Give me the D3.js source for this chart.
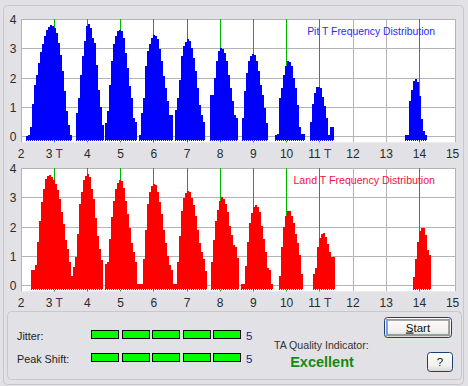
<!DOCTYPE html>
<html><head><meta charset="utf-8">
<script src="https://cdn.jsdelivr.net/npm/d3@7"></script>
<style>
html,body{margin:0;padding:0;background:#e2e1e6;overflow:hidden}
svg{display:block}
text{font-family:"Liberation Sans",Arial,sans-serif}
</style>
</head><body>
<svg id="chart" width="468" height="386"></svg>
<script>
// ---------- data ----------
const xTicks = [2,3,4,5,6,7,8,9,10,11,12,13,14,15];
const xTickLabels = ["2","3 T","4","5","6","7","8","9","10","11 T","12","13","14","15"];
const yTicks = [0,1,2,3,4];
const peakMarkers = [3,4,5,6,7,8,9,10,11,14];
const binStep = 0.06; // T per histogram column

const pitStarts = [2.15,3.66,4.53,5.55,6.64,7.69,8.66,9.65,10.71,13.57];
const pitBumps = [
  [0.03,0.05,0.34,1.1,1.77,2.1,2.5,2.9,3.17,3.44,3.64,3.76,3.82,3.78,3.72,3.55,3.2,2.8,2.24,1.55,0.86,0.39,0.05],
  [0.8,1.3,2.1,2.75,3.28,3.78,3.84,3.7,3.38,3.2,2.46,1.6,1.0,0.4],
  [0.45,0.86,1.77,2.58,3.15,3.44,3.59,3.63,3.6,3.38,2.86,2.34,1.71,1.31,0.62,0.5],
  [0.05,0.8,1.31,2.4,2.92,3.15,3.38,3.47,3.44,3.32,2.98,2.58,2.06,1.66,1.2,0.75,0.73],
  [0.9,1.31,1.94,2.75,3.09,3.24,3.32,3.27,3.03,2.69,2.23,1.66,1.08,0.73,0.51],
  [1.42,1.42,2.0,2.58,2.92,3.03,3.0,2.86,2.58,2.11,1.66,1.2,0.73,0.62],
  [0.62,1.54,2.17,2.58,2.75,2.83,2.78,2.58,2.23,1.77,1.42,0.97,0.45],
  [0.05,0.1,1.31,1.66,2.11,2.4,2.58,2.56,2.4,2.0,1.66,1.08,0.33,0.1,0.1],
  [0.5,1.1,1.5,1.68,1.68,1.66,1.35,1.05,0.62,0.05,0.33,0.33],
  [0.05,0.05,1.2,1.6,1.9,1.97,1.85,1.4,0.6,0.2,0.05]
];

const landStarts = [2.30,3.57,4.53,5.61,6.58,7.72,8.63,9.77,10.80,13.81];
const landBumps = [
  [0.52,0.52,0.7,1.5,2.2,2.85,3.3,3.65,3.76,3.77,3.72,3.62,3.47,3.27,2.95,2.52,2.1,1.55,1.26,0.8,0.34],
  [0.63,0.97,1.75,2.8,3.2,3.6,3.76,3.8,3.7,3.3,2.95,2.3,1.7,1.25,0.86],
  [0.74,0.8,1.6,2.35,2.9,3.3,3.5,3.6,3.57,3.35,2.9,2.45,1.95,1.45,1.15,0.8,0.05,0.05],
  [0.05,0.9,1.9,2.8,3.2,3.4,3.47,3.42,3.2,2.85,2.45,1.9,1.45,1.0,0.7,0.52],
  [0.05,0.05,0.8,1.7,2.55,2.98,3.17,3.24,3.2,3.0,2.75,2.38,1.9,1.45,1.15,0.9,0.5],
  [0.8,1.55,2.2,2.58,2.9,3.03,2.97,2.78,2.52,2.05,1.72,1.4,1.3,0.95],
  [0.05,0.05,0.65,1.5,2.15,2.48,2.67,2.75,2.7,2.5,2.05,1.6,1.15,0.6,0.52,0.06],
  [0.34,1.3,2.0,2.38,2.53,2.53,2.38,2.15,1.75,1.45,1.05,0.4],
  [0.4,0.6,1.3,1.62,1.75,1.8,1.65,1.42,1.15,0.98,0.97],
  [0.29,0.9,1.5,1.85,1.98,1.95,1.72,1.2,1.03]
];

const meterNames = ["Jitter:","Peak Shift:"];
const meterScores = [5,5];
const meterMax = 5;
const qualityLabel = "TA Quality Indicator:";
const qualityText = "Excellent";

// ---------- drawing ----------
const svg = d3.select("#chart");
svg.append("rect").attr("width",468).attr("height",386).attr("fill","#e2e1e6");

// outer group frame
svg.append("rect").attr("x",3.5).attr("y",5.5).attr("width",460).attr("height",379)
  .attr("rx",4).attr("fill","none").attr("stroke","#c8c7cc");

const x = d3.scaleLinear().domain([2,15]).range([21,452.6]);
const plotRight = 455.5;
const snap = v => Math.round(v - 0.5) + 0.5;

function drawChart(cfg){
  const y = d3.scaleLinear().domain([0,4]).range([cfg.y0, cfg.y4]);
  const top = cfg.y4 - 0.5, bottom = y(-0.2);
  const g = svg.append("g");
  g.append("rect").attr("x",21).attr("y",top).attr("width",plotRight-21+0.5).attr("height",bottom-top)
    .attr("fill","#ffffff");
  g.append("g").selectAll("line").data(yTicks).join("line")
    .attr("x1",21).attr("x2",plotRight).attr("y1",d=>snap(y(d))).attr("y2",d=>snap(y(d)))
    .attr("stroke","#b4b4b4");
  g.append("g").selectAll("line").data(xTicks.filter(d=>d<15)).join("line")
    .attr("x1",d=>snap(x(d))).attr("x2",d=>snap(x(d))).attr("y1",top).attr("y2",bottom)
    .attr("stroke","#b4b4b4");
  g.append("line").attr("x1",plotRight).attr("x2",plotRight).attr("y1",top).attr("y2",bottom).attr("stroke","#b4b4b4");
  g.append("g").selectAll("line").data(peakMarkers).join("line")
    .attr("x1",d=>snap(x(d))).attr("x2",d=>snap(x(d))).attr("y1",top).attr("y2",bottom)
    .attr("stroke","#00b400");

  // histogram bumps as stepped areas
  const base = Math.round(y(-0.15));
  const area = d3.area().curve(d3.curveStepAfter)
    .x(d=>Math.round(x(d.t))).y0(base).y1(d=>Math.round(y(d.v)));
  const bumpData = cfg.starts.map((s,bi)=>{
    const vals = cfg.bumps[bi];
    const pts = vals.map((v,i)=>({t:s+i*binStep, v}));
    pts.push({t:s+vals.length*binStep, v:vals[vals.length-1]});
    return pts;
  });
  const hg = g.append("g").attr("shape-rendering","crispEdges");
  hg.selectAll("path").data(bumpData).join("path").attr("d",area).attr("fill",cfg.color);
  // notches along the base
  const cols = bumpData.flatMap(p=>p.slice(0,-1));
  hg.selectAll("rect").data(cols).join("rect")
    .attr("x",d=>Math.round(x(d.t+binStep))-1).attr("width",1)
    .attr("y",base-1).attr("height",1).attr("fill","#ffffff");

  g.append("g").selectAll("text").data(yTicks).join("text")
    .attr("x",13).attr("y",d=>y(d)+4.5).attr("text-anchor","middle")
    .attr("font-size",12).attr("fill","#2a2a2a").text(d=>d);
  const xl = g.append("g").selectAll("text").data(xTicks).join("text")
    .attr("x",d=>x(d)).attr("y",cfg.labelY).attr("text-anchor","middle")
    .attr("font-size",12).attr("fill","#2a2a2a");
  xl.each(function(d,i){
    const lab = xTickLabels[i];
    const t = d3.select(this);
    if(lab.endsWith(" T")){
      t.append("tspan").text(lab.slice(0,-1));
      t.append("tspan").attr("fill","#602060").text("T");
    } else t.text(lab);
  });
  g.append("text").attr("x",435).attr("y",cfg.titleY).attr("text-anchor","end")
    .attr("font-size",cfg.titleSize).attr("fill",cfg.titleColor).text(cfg.title);
}

drawChart({y0:136.5, y4:19.5, starts:pitStarts, bumps:pitBumps, color:"#0000ff",
  labelY:157.5, title:"Pit T Frequency Distribution", titleY:35, titleColor:"#2a2aff", titleSize:10.4});
drawChart({y0:285.5, y4:168.5, starts:landStarts, bumps:landBumps, color:"#ff0000",
  labelY:306.5, title:"Land T Frequency Distribution", titleY:184, titleColor:"#f21040", titleSize:10.6});

// ---------- bottom panel ----------
svg.append("rect").attr("x",7.5).attr("y",311.5).attr("width",454).attr("height",68)
  .attr("rx",4).attr("fill","none").attr("stroke","#c8c7cc");

const rowY = [330, 353];
const segX = d3.scaleBand().domain(d3.range(meterMax)).range([91,241]).paddingInner(0.09);
meterNames.forEach((name,r)=>{
  svg.append("text").attr("x",17).attr("y",rowY[r]+9.5).attr("font-size",10.8).attr("fill","#222").text(name);
  svg.append("g").selectAll("rect").data(d3.range(meterScores[r])).join("rect")
    .attr("x",d=>Math.round(segX(d))+0.5).attr("y",rowY[r]+0.5)
    .attr("width",Math.round(segX.bandwidth())-1).attr("height",8)
    .attr("fill","#00ff00").attr("stroke","#000");
  svg.append("text").attr("x",246).attr("y",rowY[r]+9.5).attr("font-size",11.5).attr("fill","#1a1a8c").text(meterScores[r]);
});

svg.append("text").attr("x",274).attr("y",348.5).attr("font-size",10.6).attr("fill","#333").text(qualityLabel);
svg.append("text").attr("x",322).attr("y",367).attr("text-anchor","middle").attr("font-size",14.5)
  .attr("font-weight","bold").attr("fill","#138a13").text(qualityText);

// buttons
const defs = svg.append("defs");
const grad = defs.append("linearGradient").attr("id","btn").attr("x1",0).attr("y1",0).attr("x2",0).attr("y2",1);
grad.append("stop").attr("offset","0%").attr("stop-color","#ffffff");
grad.append("stop").attr("offset","70%").attr("stop-color","#f1f0ec");
grad.append("stop").attr("offset","100%").attr("stop-color","#d8d6cd");
function button(bx,by,w,h,label,focus){
  svg.append("rect").attr("x",bx+0.5).attr("y",by+0.5).attr("width",w).attr("height",h).attr("rx",3)
    .attr("fill","url(#btn)").attr("stroke","#1c3f74");
  if(focus){
    svg.append("rect").attr("x",bx+2.5).attr("y",by+2.5).attr("width",w-4).attr("height",h-4)
      .attr("fill","none").attr("stroke","#7d9bd0");
    svg.append("rect").attr("x",bx+3.5).attr("y",by+3.5).attr("width",w-6).attr("height",h-6)
      .attr("fill","none").attr("stroke","#555").attr("stroke-dasharray","1,1");
  }
  const t = svg.append("text").attr("x",bx+w/2+0.5).attr("y",by+h/2+4.5).attr("text-anchor","middle")
    .attr("font-size",11.5).attr("fill","#111");
  if(label==="Start"){
    t.append("tspan").attr("text-decoration","underline").text("S");
    t.append("tspan").text("tart");
  } else t.text(label);
}
button(384,317,67,20,"Start",true);
button(427,352,25,19,"?",false);
</script>
</body></html>
